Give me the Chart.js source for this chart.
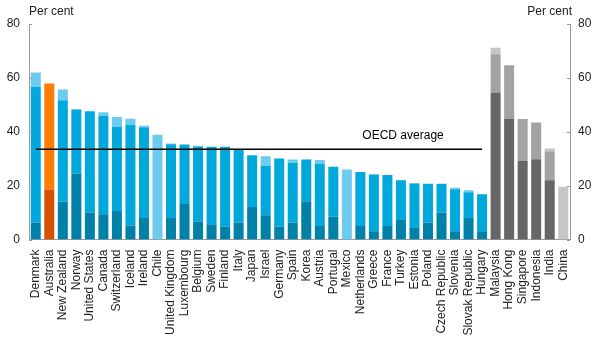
<!DOCTYPE html>
<html>
<head>
<meta charset="utf-8">
<script src="https://cdn.jsdelivr.net/npm/chart.js@4/dist/chart.umd.min.js"></script>
<style>
  html, body { margin: 0; padding: 0; background: #fff; }
  #wrap { width: 596px; height: 350px; position: relative; }
</style>
</head>
<body>
<div id="wrap"><canvas id="chart"></canvas></div>
<script>
// --- Data ---
const countries = ['Denmark', 'Australia', 'New Zealand', 'Norway', 'United States', 'Canada',
    'Switzerland', 'Iceland', 'Ireland', 'Chile', 'United Kingdom', 'Luxembourg', 'Belgium',
    'Sweden', 'Finland', 'Italy', 'Japan', 'Israel', 'Germany', 'Spain', 'Korea', 'Austria',
    'Portugal', 'Mexico', 'Netherlands', 'Greece', 'France', 'Turkey', 'Estonia', 'Poland',
    'Czech Republic', 'Slovenia', 'Slovak Republic', 'Hungary', 'Malaysia', 'Hong Kong',
    'Singapore', 'Indonesia', 'India', 'China'];

// group of each bar: 'oecd', 'aus' or 'other' (non-OECD)
const groups = ['oecd', 'aus', 'oecd', 'oecd', 'oecd', 'oecd', 'oecd', 'oecd', 'oecd', 'oecd',
    'oecd', 'oecd', 'oecd', 'oecd', 'oecd', 'oecd', 'oecd', 'oecd', 'oecd', 'oecd', 'oecd',
    'oecd', 'oecd', 'oecd', 'oecd', 'oecd', 'oecd', 'oecd', 'oecd', 'oecd', 'oecd', 'oecd',
    'oecd', 'oecd', 'other', 'other', 'other', 'other', 'other', 'other'];

// per cent, stacked segments (bottom, middle, top)
const lowerSeg = [6.3, 18.6, 14.0, 24.5, 9.9, 9.4, 10.6, 5.1, 8.0, 0, 8.0, 13.2, 6.6, 5.7, 4.7,
    6.2, 12.1, 9.0, 4.7, 6.2, 14.2, 5.0, 8.4, 0, 5.0, 3.1, 5.0, 7.2, 4.3, 6.2, 9.9, 3.1, 8.0,
    3.1, 54.6, 44.7, 29.2, 29.8, 22.0, 0];
const middleSeg = [50.3, 39.3, 37.7, 23.7, 37.7, 36.5, 31.2, 37.5, 33.7, 0, 27.4, 22.1, 27.9,
    28.7, 29.7, 27.3, 19.2, 18.4, 25.4, 22.3, 15.5, 23.0, 18.6, 0, 20.1, 20.8, 18.9, 14.8, 16.5,
    14.5, 10.8, 15.6, 9.5, 13.7, 14.2, 20.0, 15.5, 13.6, 10.8, 0];
const upperSeg = [5.4, 0, 4.0, 0.2, 0, 1.3, 3.7, 2.2, 0.5, 38.9, 0.2, 0, 0.3, 0, 0, 0, 0, 3.5,
    0, 1.2, 0, 1.5, 0, 26.0, 0, 0.4, 0, 0, 0.2, 0, 0, 0.5, 0.8, 0, 2.4, 0, 0, 0, 1.0, 19.6];

const oecdAverage = 33.5;
const yTicks = [0, 20, 40, 60, 80];

// --- Colours ---
const palette = {
    oecd:  ['#0081a8', '#00a8dc', '#6ccbee'],
    aus:   ['#d65200', '#ff7d00', '#ffb070'],
    other: ['#666666', '#a3a3a3', '#c6c6c6']
};
const colorsFor = level => groups.map(g => palette[g][level]);

const FONT = "'Liberation Sans', Arial, sans-serif";
const AREA = { left: 29, right: 570, top: 24, bottom: 239.5 };

// annotations: Per cent labels, inward ticks, OECD average line
const decorations = {
    id: 'decorations',
    afterDraw(chart) {
        const { ctx } = chart;
        const x = chart.scales.x, y = chart.scales.y;
        ctx.save();
        ctx.font = '12px ' + FONT;
        ctx.fillStyle = '#222';
        ctx.textBaseline = 'middle';
        ctx.textAlign = 'left';
        ctx.fillText('Per cent', 29, 12);
        ctx.textAlign = 'right';
        ctx.fillText('Per cent', 572, 12);

        // inward tick marks
        ctx.strokeStyle = '#9a9a9a';
        ctx.lineWidth = 1;
        yTicks.forEach(v => {
            const py = Math.round(y.getPixelForValue(v)) + 0.5;
            ctx.beginPath();
            ctx.moveTo(AREA.left, py); ctx.lineTo(AREA.left + 3, py);
            ctx.moveTo(AREA.right, py); ctx.lineTo(AREA.right - 3, py);
            ctx.stroke();
        });

        // OECD average line (across OECD members)
        const ly = y.getPixelForValue(oecdAverage);
        ctx.strokeStyle = '#000';
        ctx.lineWidth = 1.6;
        ctx.beginPath();
        ctx.moveTo(x.getPixelForValue(0), ly);
        ctx.lineTo(x.getPixelForValue(groups.lastIndexOf('oecd')), ly);
        ctx.stroke();
        ctx.fillStyle = '#000';
        ctx.textAlign = 'left';
        ctx.textBaseline = 'alphabetic';
        ctx.fillText('OECD average', x.getPixelForValue(24) + 2, ly - 10);
        ctx.restore();
    }
};

const fixWidth = w => scale => { scale.width = w; };

new Chart(document.getElementById('chart').getContext('2d'), {
    type: 'bar',
    data: {
        labels: countries,
        datasets: [
            { label: 'lower', data: lowerSeg, backgroundColor: colorsFor(0) },
            { label: 'middle', data: middleSeg, backgroundColor: colorsFor(1) },
            { label: 'upper', data: upperSeg, backgroundColor: colorsFor(2) }
        ]
    },
    options: {
        responsive: true,
        maintainAspectRatio: false,
        animation: false,
        datasets: { bar: { barPercentage: 0.74, categoryPercentage: 1, borderWidth: 0 } },
        layout: { padding: { top: AREA.top, left: 0, right: 0, bottom: 0 } },
        plugins: { legend: { display: false }, tooltip: { enabled: false } },
        scales: {
            x: {
                stacked: true,
                grid: { display: false, drawTicks: false },
                border: { color: '#9a9a9a' },
                ticks: {
                    autoSkip: false, maxRotation: 90, minRotation: 90, padding: 10,
                    color: '#222', font: { family: FONT, size: 12 }
                },
                afterFit: scale => { scale.height = 350 - AREA.bottom; }
            },
            y: {
                stacked: true,
                position: 'left',
                min: 0, max: 80,
                afterBuildTicks: scale => { scale.ticks = yTicks.map(v => ({ value: v })); },
                grid: { display: false, drawTicks: false },
                border: { color: '#9a9a9a' },
                ticks: { padding: 9, color: '#222', font: { family: FONT, size: 12 } },
                afterFit: fixWidth(AREA.left)
            },
            y2: {
                position: 'right',
                min: 0, max: 80,
                afterBuildTicks: scale => { scale.ticks = yTicks.map(v => ({ value: v })); },
                grid: { display: false, drawTicks: false },
                border: { color: '#9a9a9a' },
                ticks: { padding: 8, color: '#222', font: { family: FONT, size: 12 } },
                afterFit: fixWidth(596 - AREA.right)
            }
        }
    },
    plugins: [decorations]
});
</script>
</body>
</html>
